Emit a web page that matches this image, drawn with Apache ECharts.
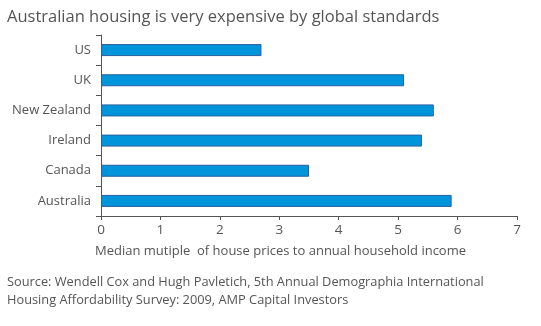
<!DOCTYPE html>
<html><head><meta charset="utf-8">
<script src="https://cdn.jsdelivr.net/npm/echarts@6/dist/echarts.min.js"></script>
<style>html,body{margin:0;padding:0;background:#fff}#c{width:541px;height:326px}</style>
</head><body><div id="c"></div>
<script>
const categories = ['Australia', 'Canada', 'Ireland', 'New Zealand', 'UK', 'US'];
const values = [5.9, 3.5, 5.4, 5.6, 5.1, 2.7];
const xTicks = [0, 1, 2, 3, 4, 5, 6, 7];
const titleText = 'Australian housing is very expensive by global standards';
const axisName = 'Median mutiple  of house prices to annual household income';
const sourceText = 'Source: Wendell Cox and Hugh Pavletich, 5th Annual Demographia International\nHousing Affordability Survey: 2009, AMP Capital Investors';
const FONT = 'Open Sans';
const chart = echarts.init(document.getElementById('c'), null, {renderer: 'canvas'});
chart.setOption({
  animation: false,
  backgroundColor: '#fff',
  title: [
    {text: titleText, left: 2, top: 4, textStyle: {fontFamily: FONT, fontSize: 16.5, fontWeight: 'normal', color: '#555'}},
    {text: sourceText, left: 2, top: 268, textStyle: {fontFamily: FONT, fontSize: 12.8, fontWeight: 'normal', color: '#555', lineHeight: 18}}
  ],
  graphic: [
    {type: 'text', left: 95, top: 245, style: {text: axisName, fontFamily: FONT, fontSize: 13, fill: '#555'}}
  ],
  grid: {left: 101, top: 35, right: 24, bottom: 110, containLabel: false, outerBoundsMode: 'none'},
  xAxis: {
    type: 'value', min: xTicks[0], max: xTicks[xTicks.length - 1], interval: 1,
    splitLine: {show: false},
    axisLine: {show: true, lineStyle: {color: '#555', width: 1}},
    axisTick: {show: true, inside: false, length: 4, lineStyle: {color: '#555'}},
    axisLabel: {fontFamily: FONT, fontSize: 13.5, color: '#555', margin: 7}
  },
  yAxis: {
    type: 'category', data: categories,
    axisLine: {show: true, lineStyle: {color: '#555', width: 1}},
    axisTick: {show: true, length: 5, lineStyle: {color: '#555'}},
    axisLabel: {fontFamily: FONT, fontSize: 13, color: '#555', margin: 10}
  },
  series: [{
    type: 'bar', data: values, barWidth: 12,
    itemStyle: {color: '#0095da', borderColor: '#2a5f9e', borderWidth: 1}
  }]
});
</script></body></html>
